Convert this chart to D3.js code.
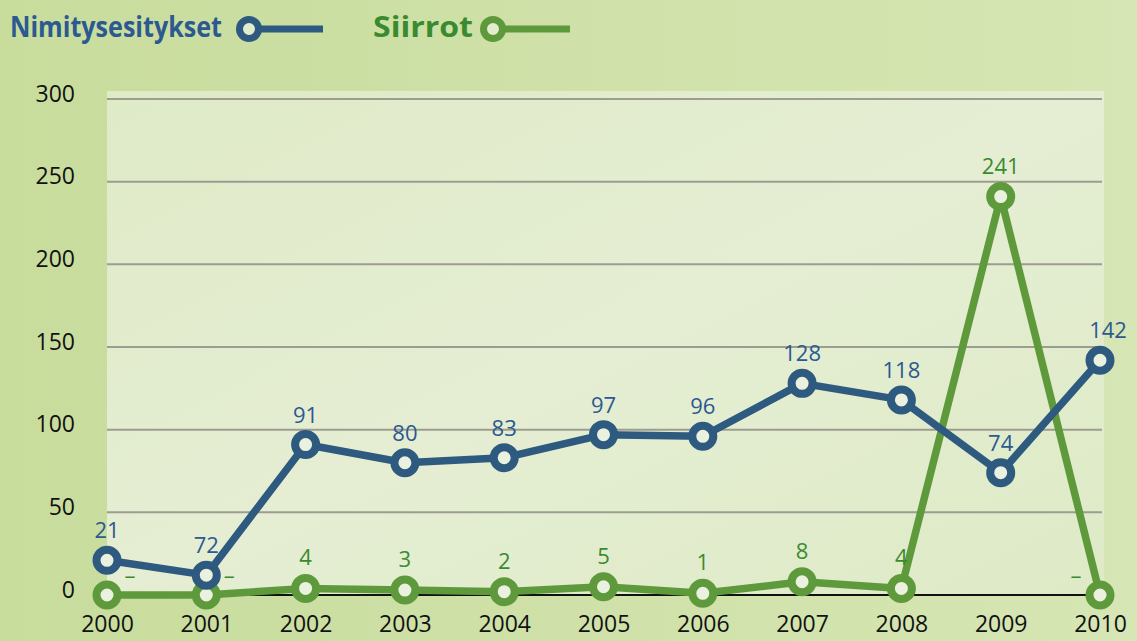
<!DOCTYPE html>
<html>
<head>
<meta charset="utf-8">
<script src="https://cdn.jsdelivr.net/npm/d3@7"></script>
<style>
    body { margin: 0; background: #d2e3ad; }
    text { font-family: "Open Sans", "Noto Sans", sans-serif; }
</style>
</head>
<body>
<div id="wrapper"></div>
<script>
const years = ["2000", "2001", "2002", "2003", "2004", "2005", "2006", "2007", "2008", "2009", "2010"]
const nimitysValues = [21, 12, 91, 80, 83, 97, 96, 128, 118, 74, 142]
const nimitysLabels = ["21", "72", "91", "80", "83", "97", "96", "128", "118", "74", "142"]
const siirrotValues = [0, 0, 4, 3, 2, 5, 1, 8, 4, 241, 0]
const siirrotLabels = ["–", "–", "4", "3", "2", "5", "1", "8", "4", "241", "–"]
const yTicks = [0, 50, 100, 150, 200, 250, 300]

function drawChart() {
    let dimensions = {
        width: 1137,
        height: 641,
        margin: {
            top: 99,
            right: 35,
            bottom: 46,
            left: 107,
        },
    }
    dimensions.boundedWidth = dimensions.width
        - dimensions.margin.left
        - dimensions.margin.right
    dimensions.boundedHeight = dimensions.height
        - dimensions.margin.top
        - dimensions.margin.bottom

    const blue = "#2e5a80"
    const blueText = "#2b5990"
    const green = "#5e9a3c"
    const greenText = "#3a8b30"

    const wrapper = d3.select("#wrapper")
        .append("svg")
        .attr("width", dimensions.width)
        .attr("height", dimensions.height)

    // backgrounds
    const defs = wrapper.append("defs")
    const bgGrad = defs.append("linearGradient")
        .attr("id", "bgGrad")
        .attr("x1", "0").attr("y1", "0").attr("x2", "1").attr("y2", "0")
    bgGrad.append("stop").attr("offset", "0").attr("stop-color", "#c8dc9c")
    bgGrad.append("stop").attr("offset", "1").attr("stop-color", "#d6e6b4")
    const plotGrad = defs.append("linearGradient")
        .attr("id", "plotGrad")
        .attr("x1", "0").attr("y1", "0").attr("x2", "1").attr("y2", "1")
    plotGrad.append("stop").attr("offset", "0").attr("stop-color", "#dfeac7")
    plotGrad.append("stop").attr("offset", "0.5").attr("stop-color", "#e5eed3")
    plotGrad.append("stop").attr("offset", "1").attr("stop-color", "#deeac6")

    wrapper.append("rect")
        .attr("width", dimensions.width)
        .attr("height", dimensions.height)
        .attr("fill", "url(#bgGrad)")

    const bounds = wrapper.append("g")
        .attr("transform", `translate(${dimensions.margin.left},${dimensions.margin.top})`)

    bounds.append("rect")
        .attr("x", 0)
        .attr("y", -8)
        .attr("width", dimensions.boundedWidth + 2)
        .attr("height", dimensions.boundedHeight + 8)
        .attr("fill", "url(#plotGrad)")

    // scales
    const xScaler = d3.scalePoint()
        .domain(years)
        .range([0, dimensions.boundedWidth - 2])

    const yScaler = d3.scaleLinear()
        .domain([0, 300])
        .range([dimensions.boundedHeight, 0])

    // grid
    bounds.append("g")
        .selectAll("line")
        .data(yTicks.filter(d => d > 0))
        .join("line")
        .attr("x1", 0)
        .attr("x2", dimensions.boundedWidth)
        .attr("y1", d => yScaler(d))
        .attr("y2", d => yScaler(d))
        .attr("stroke", "#9c9d90")
        .attr("stroke-width", 2)

    bounds.append("line")
        .attr("x1", 0)
        .attr("x2", dimensions.boundedWidth - 15)
        .attr("y1", yScaler(0))
        .attr("y2", yScaler(0))
        .attr("stroke", "#111")
        .attr("stroke-width", 2)

    // axes
    const yAxisGen = d3.axisLeft(yScaler)
        .tickValues(yTicks)
        .tickSize(0)
        .tickPadding(32)
    const yAxis = bounds.append("g").call(yAxisGen)
    yAxis.select(".domain").remove()
    yAxis.selectAll("text")
        .attr("font-size", 23)
        .attr("fill", "#111")
        .attr("dy", "0.1em")
        .style("font-family", "'Open Sans', sans-serif")

    const xAxisGen = d3.axisBottom(xScaler)
        .tickSize(0)
        .tickPadding(21)
    const xAxis = bounds.append("g")
        .attr("transform", `translate(0,${dimensions.boundedHeight})`)
        .call(xAxisGen)
    xAxis.select(".domain").remove()
    xAxis.selectAll("text")
        .attr("font-size", 23)
        .attr("fill", "#111")
        .style("font-family", "'Open Sans', sans-serif")

    const lineGen = d3.line()
        .x((d, i) => xScaler(years[i]))
        .y(d => yScaler(d))

    const drawSeries = (values, color) => {
        bounds.append("path")
            .datum(values)
            .attr("d", lineGen)
            .attr("fill", "none")
            .attr("stroke", color)
            .attr("stroke-width", 7.5)
            .attr("stroke-linejoin", "round")
        bounds.append("g")
            .selectAll("circle")
            .data(values)
            .join("circle")
            .attr("cx", (d, i) => xScaler(years[i]))
            .attr("cy", d => yScaler(d))
            .attr("r", 10.5)
            .attr("fill", "#eaf1de")
            .attr("stroke", color)
            .attr("stroke-width", 8)
    }

    drawSeries(siirrotValues, green)
    drawSeries(nimitysValues, blue)

    // value labels
    bounds.append("g")
        .selectAll("text")
        .data(nimitysValues)
        .join("text")
        .attr("x", (d, i) => xScaler(years[i]) + (i == years.length - 1 ? 8 : 0))
        .attr("y", d => yScaler(d) - 22)
        .attr("text-anchor", "middle")
        .attr("font-size", 22)
        .attr("fill", blueText)
        .text((d, i) => nimitysLabels[i])

    bounds.append("g")
        .selectAll("text")
        .data(siirrotValues)
        .join("text")
        .attr("x", (d, i) => {
            const x = xScaler(years[i])
            if (siirrotLabels[i] != "–") return x
            return i == years.length - 1 ? x - 24 : x + 23
        })
        .attr("y", (d, i) => siirrotLabels[i] == "–" ? yScaler(d) - 12 : yScaler(d) - 23)
        .attr("text-anchor", "middle")
        .attr("font-size", 22)
        .attr("fill", greenText)
        .text((d, i) => siirrotLabels[i])

    // legend
    const legendItems = [
        { name: "Nimitysesitykset", color: blue, textColor: blueText, x: 10, width: 212, symbolX: 249, lineEnd: 323 },
        { name: "Siirrot", color: green, textColor: greenText, x: 373, width: 100, symbolX: 493, lineEnd: 570 },
    ]
    const legend = wrapper.append("g")
    legendItems.forEach(item => {
        legend.append("text")
            .attr("x", item.x)
            .attr("y", 37)
            .attr("font-size", 28)
            .attr("font-weight", "bold")
            .attr("fill", item.textColor)
            .attr("textLength", item.width)
            .attr("lengthAdjust", "spacingAndGlyphs")
            .style("font-family", "'Open Sans', sans-serif")
            .text(item.name)
        legend.append("line")
            .attr("x1", item.symbolX)
            .attr("x2", item.lineEnd)
            .attr("y1", 29)
            .attr("y2", 29)
            .attr("stroke", item.color)
            .attr("stroke-width", 7)
        legend.append("circle")
            .attr("cx", item.symbolX)
            .attr("cy", 29)
            .attr("r", 9.5)
            .attr("fill", "#e3edcc")
            .attr("stroke", item.color)
            .attr("stroke-width", 7)
    })
}

drawChart()
</script>
</body>
</html>
